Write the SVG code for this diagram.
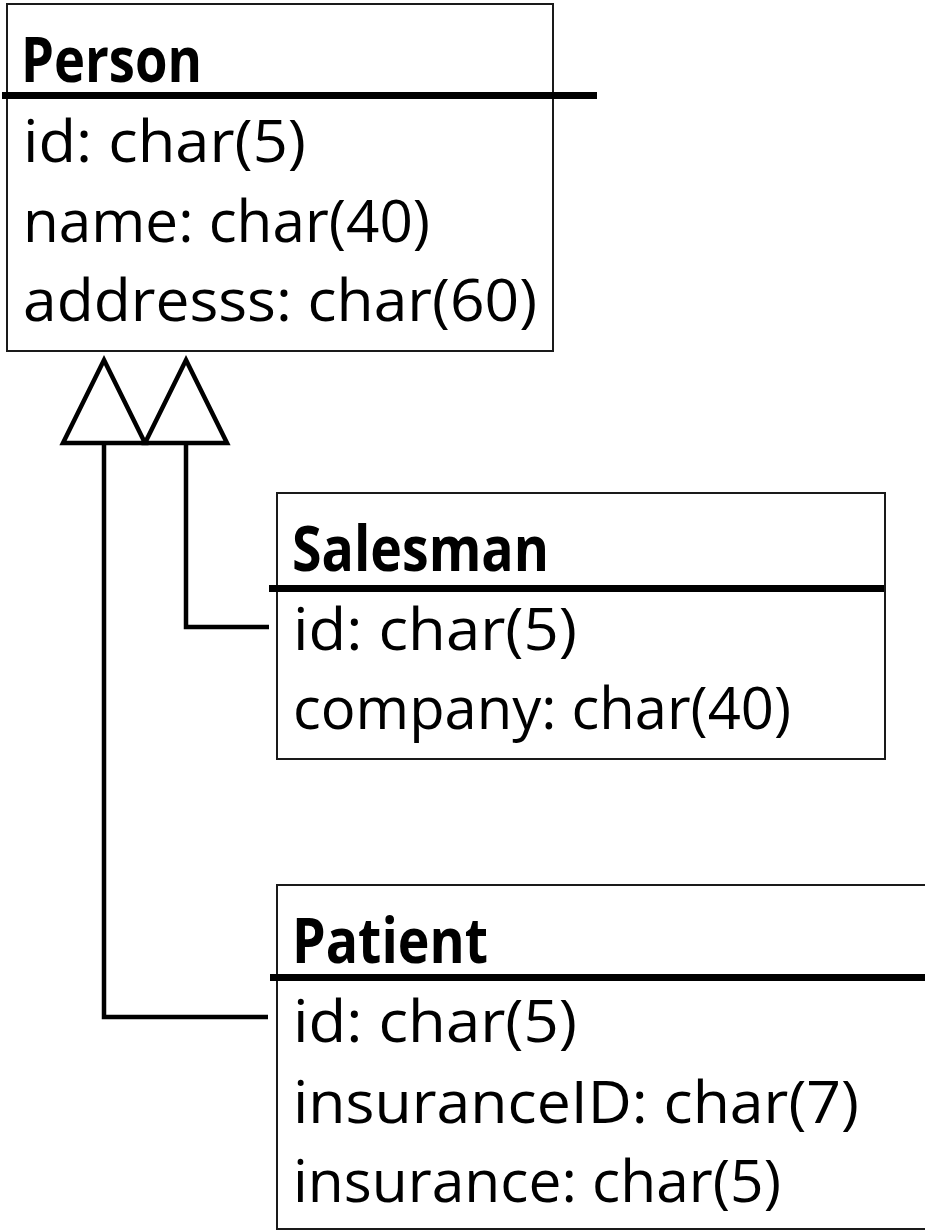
<svg xmlns="http://www.w3.org/2000/svg" width="925" height="1231" viewBox="0 0 925 1231">
  <style>
    .box { fill: #ffffff; stroke: #1a1a1a; stroke-width: 2; }
    .sep { stroke: #000000; stroke-width: 7; }
    .title { font-family: "Open Sans", "DejaVu Sans", sans-serif; font-size: 63px; font-weight: bold; fill: #000000; }
    .attr { font-family: "Open Sans", "DejaVu Sans", sans-serif; font-size: 58px; fill: #000000; }
    .link { fill: none; stroke: #000000; stroke-width: 4.5; stroke-linejoin: miter; }
    .head { fill: #ffffff; stroke: #000000; stroke-width: 4.5; stroke-linejoin: miter; }
  </style>
  <rect width="925" height="1231" fill="#ffffff"/>

  <!-- generalization connectors -->
  <g id="connectors">
    <polyline class="link" points="104,443 104,1017 268,1017"/>
    <polyline class="link" points="186,443 186,627 269,627"/>
    <polygon class="head" points="104,360 145,443 63,443"/>
    <polygon class="head" points="186,360 227,443 145,443"/>
  </g>

  <!-- Person -->
  <g id="person">
    <rect class="box" x="7" y="4" width="546" height="347"/>
    <line class="sep" x1="2" y1="95.5" x2="597" y2="95.5"/>
    <text class="title" x="21" y="82" textLength="181" lengthAdjust="spacingAndGlyphs">Person</text>
    <text class="attr" x="23" y="162" textLength="283" lengthAdjust="spacingAndGlyphs">id: char(5)</text>
    <text class="attr" x="23" y="242" textLength="407" lengthAdjust="spacingAndGlyphs">name: char(40)</text>
    <text class="attr" x="23" y="321" textLength="514" lengthAdjust="spacingAndGlyphs">addresss: char(60)</text>
  </g>

  <!-- Salesman -->
  <g id="salesman">
    <rect class="box" x="277" y="493" width="608" height="266"/>
    <line class="sep" x1="269" y1="588.5" x2="884" y2="588.5"/>
    <text class="title" x="292" y="571" textLength="257" lengthAdjust="spacingAndGlyphs">Salesman</text>
    <text class="attr" x="293" y="650" textLength="284" lengthAdjust="spacingAndGlyphs">id: char(5)</text>
    <text class="attr" x="293" y="729" textLength="498" lengthAdjust="spacingAndGlyphs">company: char(40)</text>
  </g>

  <!-- Patient -->
  <g id="patient">
    <rect class="box" x="277" y="885" width="660" height="344"/>
    <line class="sep" x1="270" y1="977.5" x2="925" y2="977.5"/>
    <text class="title" x="292" y="963" textLength="196" lengthAdjust="spacingAndGlyphs">Patient</text>
    <text class="attr" x="293" y="1042" textLength="284" lengthAdjust="spacingAndGlyphs">id: char(5)</text>
    <text class="attr" x="293" y="1123" textLength="566" lengthAdjust="spacingAndGlyphs">insuranceID: char(7)</text>
    <text class="attr" x="293" y="1202" textLength="488" lengthAdjust="spacingAndGlyphs">insurance: char(5)</text>
  </g>
</svg>
